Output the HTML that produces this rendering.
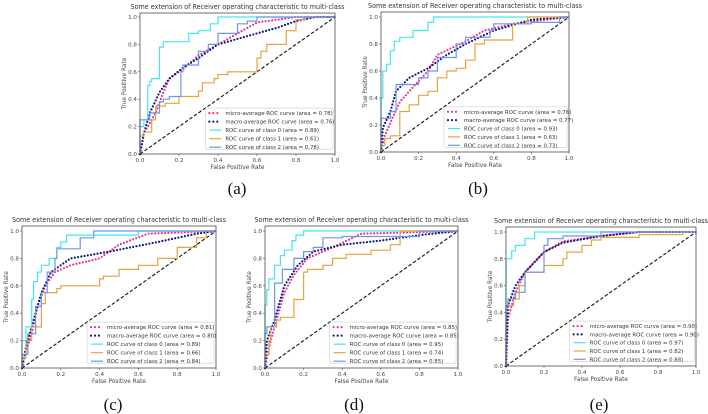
<!DOCTYPE html>
<html><head><meta charset="utf-8">
<style>
html,body{margin:0;padding:0;background:#fff;}
svg{display:block;font-family:"DejaVu Sans","Liberation Sans",sans-serif;}
</style></head>
<body>
<svg id="fig" width="708" height="414" viewBox="0 0 708 414" xmlns="http://www.w3.org/2000/svg"></svg>
<script>
// ---- data ----
const panelLabels = ["(a)","(b)","(c)","(d)","(e)"];
const seriesNames = ["micro-average ROC curve","macro-average ROC curve","ROC curve of class 0","ROC curve of class 1","ROC curve of class 2"];
const areasA = [0.78,0.76,0.89,0.61,0.78];
const areasB = [0.76,0.77,0.93,0.63,0.73];
const areasC = [0.81,0.80,0.89,0.66,0.84];
const areasD = [0.85,0.85,0.95,0.74,0.85];
const areasE = [0.90,0.90,0.97,0.82,0.88];
const tickLabels = ["0.0","0.2","0.4","0.6","0.8","1.0"];
const tickValues = [0,0.2,0.4,0.6,0.8,1.0];

// panel a
const aMicroX=[0,0.02,0.08,0.12,0.15,0.22,0.3,0.4,0.5,0.6,0.8,1];
const aMicroY=[0,0.15,0.3,0.45,0.55,0.62,0.72,0.8,0.88,0.96,1,1];
const aMacroX=[0,0.02,0.05,0.1,0.15,0.22,0.3,0.4,0.5,0.6,0.7,0.8,0.9,1];
const aMacroY=[0,0.15,0.3,0.45,0.55,0.63,0.7,0.8,0.84,0.88,0.92,0.97,1,1];
const aC0X=[0,0,0.02,0.02,0.04,0.05,0.06,0.1,0.1,0.12,0.15,0.25,0.25,0.3,0.36,0.4,0.44,1];
const aC0Y=[0,0.12,0.2,0.25,0.25,0.5,0.53,0.55,0.7,0.78,0.82,0.82,0.85,0.88,0.9,0.95,1,1];
const aC1X=[0,0,0.02,0.06,0.08,0.13,0.2,0.3,0.32,0.38,0.4,0.45,0.6,0.62,0.65,0.75,0.8,0.85,1];
const aC1Y=[0,0.1,0.13,0.16,0.25,0.35,0.37,0.42,0.46,0.52,0.55,0.58,0.6,0.7,0.75,0.8,0.9,0.98,1];
const aC2X=[0,0,0.05,0.1,0.12,0.15,0.21,0.22,0.3,0.35,0.4,0.5,0.55,0.6,0.7,1];
const aC2Y=[0,0.15,0.25,0.3,0.38,0.4,0.42,0.6,0.65,0.75,0.8,0.88,0.95,0.97,1,1];
// panel b
const bMicroX=[0,0.02,0.06,0.1,0.15,0.25,0.3,0.45,0.55,0.7,1];
const bMicroY=[0,0.12,0.25,0.37,0.45,0.6,0.72,0.82,0.9,0.95,1];
const bMacroX=[0,0.01,0.05,0.08,0.15,0.25,0.35,0.45,0.6,0.8,1];
const bMacroY=[0,0.18,0.3,0.45,0.55,0.62,0.72,0.8,0.9,0.98,1];
const bC0X=[0,0,0.01,0.03,0.05,0.07,0.1,0.17,0.25,0.28,0.32,1];
const bC0Y=[0,0.2,0.4,0.6,0.65,0.75,0.82,0.85,0.9,0.96,1,1];
const bC1X=[0,0.02,0.05,0.1,0.1,0.15,0.2,0.25,0.3,0.35,0.4,0.45,0.5,0.55,0.7,0.78,1];
const bC1Y=[0,0.05,0.1,0.12,0.26,0.3,0.35,0.42,0.45,0.55,0.6,0.62,0.68,0.8,0.83,0.95,1];
const bC2X=[0,0,0.05,0.08,0.08,0.2,0.25,0.3,0.4,0.45,0.58,0.6,0.8,0.95,1];
const bC2Y=[0,0.1,0.25,0.3,0.47,0.5,0.55,0.6,0.7,0.8,0.85,0.9,0.95,0.96,1];
// panel c
const cMicroX=[0,0.02,0.05,0.08,0.12,0.17,0.25,0.4,0.5,0.65,1];
const cMicroY=[0,0.12,0.25,0.45,0.6,0.7,0.75,0.8,0.9,0.98,1];
const cMacroX=[0,0.02,0.05,0.1,0.15,0.25,0.45,0.7,0.9,1];
const cMacroY=[0,0.15,0.3,0.55,0.7,0.8,0.85,0.92,0.98,1];
const cC0X=[0,0,0.02,0.05,0.06,0.08,0.1,0.14,0.18,0.2,0.23,0.6,0.75,1];
const cC0Y=[0,0.1,0.2,0.3,0.5,0.63,0.7,0.75,0.8,0.88,0.92,0.97,1,1];
const cC1X=[0,0.02,0.05,0.1,0.12,0.18,0.2,0.4,0.42,0.5,0.6,0.7,0.8,0.9,0.95,1];
const cC1Y=[0,0.07,0.2,0.3,0.47,0.55,0.58,0.6,0.65,0.67,0.72,0.75,0.8,0.88,0.95,1];
const cC2X=[0,0.03,0.07,0.1,0.13,0.17,0.18,0.3,0.37,0.6,1];
const cC2Y=[0,0.1,0.25,0.45,0.55,0.7,0.8,0.87,0.95,1,1];
// panel d
const dMicroX=[0,0.02,0.05,0.1,0.15,0.22,0.35,0.5,1];
const dMicroY=[0,0.15,0.3,0.55,0.68,0.8,0.88,0.98,1];
const dMacroX=[0,0.01,0.05,0.1,0.17,0.25,0.4,0.6,0.8,1];
const dMacroY=[0,0.2,0.35,0.6,0.75,0.85,0.9,0.93,0.97,1];
const dC0X=[0,0,0.01,0.02,0.05,0.08,0.1,0.14,0.16,0.2,0.26,1];
const dC0Y=[0,0.35,0.46,0.57,0.65,0.75,0.82,0.86,0.93,0.97,1,1];
const dC1X=[0,0.02,0.03,0.06,0.08,0.15,0.2,0.22,0.3,0.35,0.42,0.55,0.65,0.7,0.78,1];
const dC1Y=[0,0.1,0.2,0.3,0.35,0.37,0.5,0.7,0.72,0.75,0.8,0.83,0.86,0.9,1,1];
const dC2X=[0,0.01,0.05,0.09,0.15,0.2,0.25,0.3,0.4,0.8,0.9,1];
const dC2Y=[0,0.25,0.3,0.62,0.72,0.8,0.85,0.88,0.95,0.96,1,1];
// panel e
const eMicroX=[0,0.01,0.05,0.1,0.2,0.3,0.5,0.7,1];
const eMicroY=[0,0.35,0.55,0.7,0.85,0.93,0.97,1,1];
const eMacroX=[0,0.01,0.05,0.1,0.2,0.3,0.5,0.7,1];
const eMacroY=[0,0.45,0.6,0.7,0.85,0.92,0.97,1,1];
const eC0X=[0,0,0.03,0.05,0.1,0.15,0.25,1];
const eC0Y=[0,0.75,0.8,0.86,0.9,0.95,1,1];
const eC1X=[0,0,0.04,0.07,0.1,0.2,0.3,0.32,0.4,0.45,0.5,0.7,0.93,1];
const eC1Y=[0,0.36,0.45,0.5,0.6,0.7,0.75,0.8,0.85,0.9,0.94,0.96,0.98,1];
const eC2X=[0,0.01,0.05,0.1,0.2,0.22,0.3,0.5,1];
const eC2Y=[0,0.45,0.5,0.55,0.7,0.9,0.95,0.97,1];

// ---- layout ----
const panels = [
 {label:panelLabels[0],areas:areasA,x0:140,x1:335,y1:17,y0:154,top:13,lab:[237,194],
  series:[[aMicroX,aMicroY],[aMacroX,aMacroY],[aC0X,aC0Y],[aC1X,aC1Y],[aC2X,aC2Y]]},
 {label:panelLabels[1],areas:areasB,x0:381,x1:569,y1:17,y0:152,top:12,lab:[478,194],
  series:[[bMicroX,bMicroY],[bMacroX,bMacroY],[bC0X,bC0Y],[bC1X,bC1Y],[bC2X,bC2Y]]},
 {label:panelLabels[2],areas:areasC,x0:22,x1:216,y1:231,y0:368,top:226,lab:[113,410],
  series:[[cMicroX,cMicroY],[cMacroX,cMacroY],[cC0X,cC0Y],[cC1X,cC1Y],[cC2X,cC2Y]]},
 {label:panelLabels[3],areas:areasD,x0:265,x1:458,y1:231,y0:368,top:226,lab:[354,410],
  series:[[dMicroX,dMicroY],[dMacroX,dMacroY],[dC0X,dC0Y],[dC1X,dC1Y],[dC2X,dC2Y]]},
 {label:panelLabels[4],areas:areasE,x0:506,x1:696,y1:232,y0:366,top:227,lab:[599,410],
  series:[[eMicroX,eMicroY],[eMacroX,eMacroY],[eC0X,eC0Y],[eC1X,eC1Y],[eC2X,eC2Y]]}
];
const colors=["#e8358f","#0b1780","#44e6ee","#e8a33a","#6f95e6"];
const dotted=[true,true,false,false,false];
const NS="http://www.w3.org/2000/svg";
const svg=document.getElementById('fig');
function mk(tag,attrs,parent){const e=document.createElementNS(NS,tag);for(const k in attrs)e.setAttribute(k,attrs[k]);(parent||svg).appendChild(e);return e;}
function txt(s,attrs,parent){const e=mk('text',attrs,parent);e.textContent=s;return e;}

panels.forEach((p,pi)=>{
  const g=mk('g',{});
  
  
  const sx=v=>p.x0+v*(p.x1-p.x0);
  const sy=v=>p.y0-v*(p.y0-p.y1);
  const right=p.x1, bottom=p.y0;
  const t=txt("Some extension of Receiver operating characteristic to multi-class",{x:(p.x0+p.x1)/2,y:p.top-4,'font-size':7,'text-anchor':'middle',fill:'#333',textLength:214,lengthAdjust:'spacingAndGlyphs'},g);
  
  
  tickValues.forEach((v,i)=>{
    mk('line',{x1:sx(v),x2:sx(v),y1:bottom,y2:bottom+2,stroke:'#555','stroke-width':0.6},g);
    const tx=txt(tickLabels[i],{x:sx(v),y:bottom+8,'font-size':5.6,'text-anchor':'middle',fill:'#444'},g);
    
    
    mk('line',{x1:p.x0-2,x2:p.x0,y1:sy(v),y2:sy(v),stroke:'#555','stroke-width':0.6},g);
    const ty=txt(tickLabels[i],{x:p.x0-3,y:sy(v)+2,'font-size':5.6,'text-anchor':'end',fill:'#444'},g);
    
    
  });
  const xl=txt("False Positive Rate",{x:(p.x0+p.x1)/2,y:bottom+15,'font-size':5.8,'text-anchor':'middle',fill:'#444'},g);
  
  
  const yc=(p.top+bottom)/2;
  const yl=txt("True Positive Rate",{x:p.x0-14,y:yc,'font-size':5.8,'text-anchor':'middle',fill:'#444',transform:`rotate(-90 ${p.x0-14} ${yc})`},g);
  
  
  const dg=mk('line',{x1:sx(0),y1:sy(0),x2:sx(1),y2:sy(1),stroke:'#111','stroke-width':1.1,'stroke-dasharray':'3.5 2'},g);
  
  
  p.series.forEach((s,si)=>{
    let pts=[];
    s[0].forEach((x,k)=>{
      if(!dotted[si] && k>0){pts.push(sx(s[0][k-1]).toFixed(1)+','+sy(s[1][k]).toFixed(1));}
      pts.push(sx(x).toFixed(1)+','+sy(s[1][k]).toFixed(1));
    });
    const a={points:pts.join(' '),fill:'none',stroke:colors[si]};
    if(dotted[si]){a['stroke-width']=2.2;a['stroke-dasharray']='0 3.3';a['stroke-linecap']='round';}
    else{a['stroke-width']=1.2;}
    const pl=mk('polyline',a,g);
    
    
  });
  mk('rect',{x:p.x0,y:p.top,width:right-p.x0,height:bottom-p.top,fill:'none',stroke:'#333','stroke-width':0.7},g);
  const W=p.x1-p.x0,H=p.y0-p.y1;
  const lx=p.x0+0.335*W, ly=p.y0-0.335*H, lw=0.655*W, lh=0.30*H;
  const lg=mk('g',{},g);
  
  
  mk('rect',{x:lx,y:ly,width:lw,height:lh,fill:'#fff','fill-opacity':0.85,stroke:'#ccc','stroke-width':0.6,rx:1.5},lg);
  seriesNames.forEach((n,si)=>{
    const yy=ly+5+si*(lh-7)/4;
    const a={x1:lx+4,x2:lx+16,y1:yy,y2:yy,stroke:colors[si]};
    if(dotted[si]){a['stroke-width']=2.2;a['stroke-dasharray']='0 4';a['stroke-linecap']='round';}
    else a['stroke-width']=1.2;
    mk('line',a,lg);
    const le=txt(n+" (area = "+p.areas[si].toFixed(2)+")",{x:lx+20,y:yy+2,'font-size':5.4,fill:'#333'},lg);
    
    
  });
  const pl=txt(p.label,{x:p.lab[0],y:p.lab[1],'font-size':17,'text-anchor':'middle',fill:'#111','font-family':'"Liberation Serif",serif'},g);
  
  
});
</script>
</body></html>
